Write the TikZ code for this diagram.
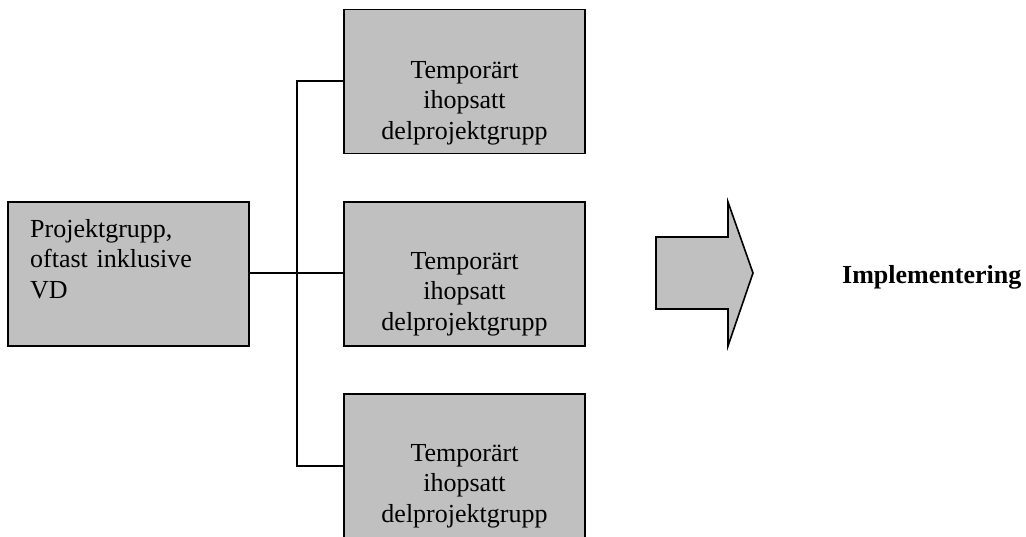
\documentclass[tikz,border=0pt]{standalone}
\usepackage{fontspec}
\setmainfont{Liberation Serif}
\definecolor{boxgray}{HTML}{C0C0C0}
\begin{document}
\begin{tikzpicture}[x=1pt,y=-1pt,
  box/.style={draw=black, fill=boxgray, line width=1.6pt, minimum width=241pt, minimum height=144pt, inner sep=0pt},
  txt/.style={inner sep=0pt, font=\fontsize{26}{30.5}\selectfont},
  conn/.style={draw=black, line width=1.3pt},
  bigarrow/.style={draw=black, fill=boxgray, line width=1.6pt, line join=miter}]
\useasboundingbox (0,0) rectangle (1026,536);
% boxes
\node[box] (pg) at (128.5,274) {};
\node[box] (d1) at (464.5,81.5) {};
\node[box] (d2) at (464.5,274) {};
\node[box] (d3) at (464.5,466) {};
% texts
\node[txt, anchor=base west, text width=210pt, align=left] (pgt) at (30,237) {Projektgrupp,\\oftast inklusive\\VD};
\node[txt, anchor=base, text width=230pt, align=center] (d1t) at (464.5,78) {Temporärt\\ihopsatt\\delprojektgrupp};
\node[txt, anchor=base, text width=230pt, align=center] (d2t) at (464.5,269) {Temporärt\\ihopsatt\\delprojektgrupp};
\node[txt, anchor=base, text width=230pt, align=center] (d3t) at (464.5,461) {Temporärt\\ihopsatt\\delprojektgrupp};
% connectors
\coordinate (bus) at (297,273);
\draw[conn] (pg.east |- bus) -- (bus);
\draw[conn] (d1.west |- 0,81) -| (bus) |- (d3.west |- 0,466);
\draw[conn] (bus) -- (d2.west |- bus);
% block arrow
\draw[bigarrow] (656,237) -- (728,237) -- (728,202) -- (753,273) -- (728,346) -- (728,309) -- (656,309) -- cycle;
% label
\node[txt, anchor=base west, font=\fontsize{26}{30.5}\selectfont\bfseries] (impl) at (842,283) {Implementering};
\end{tikzpicture}
\end{document}
